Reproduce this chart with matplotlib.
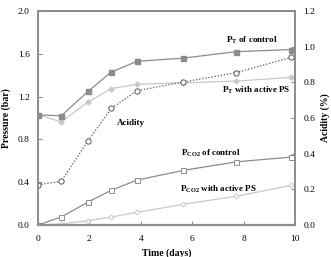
import numpy as np
import matplotlib.pyplot as plt

plt.rcParams.update({
    "font.family": "Liberation Serif",
    "font.size": 6,
    "mathtext.fontset": "custom",
    "mathtext.rm": "Liberation Serif:bold",
    "mathtext.bf": "Liberation Serif:bold",
})

# data
t_days = [0.0, 0.9, 1.95, 2.85, 3.85, 5.65, 7.7, 9.85]
pt_control = [1.03, 1.02, 1.25, 1.43, 1.53, 1.56, 1.62, 1.64]
pt_ps = [1.03, 0.965, 1.15, 1.275, 1.315, 1.33, 1.345, 1.38]
pco2_control = [0.0, 0.075, 0.215, 0.325, 0.42, 0.51, 0.59, 0.635]
pco2_ps = [0.0, 0.01, 0.04, 0.075, 0.118, 0.193, 0.268, 0.37]
acidity = [0.226, 0.245, 0.473, 0.654, 0.753, 0.802, 0.854, 0.94]

dark = "#8c8c8c"
light = "#c8c8c8"
spine_c = "#8c8c8c"

fig = plt.figure(figsize=(3.31, 2.57), dpi=100)
ax = fig.add_axes([0.115, 0.1245, 0.776, 0.8325])
ax2 = ax.twinx()

ax.plot(t_days, pt_control, color=dark, lw=0.9, marker="s", ms=3.6,
        mfc=dark, mec=dark, zorder=3)
ax.plot(t_days, pt_ps, color=light, lw=0.9, marker="D", ms=2.6,
        mfc=light, mec=light, zorder=2)
ax.plot(t_days, pco2_control, color=dark, lw=0.9, marker="s", ms=3.6,
        mfc="white", mec=dark, mew=0.7, zorder=3)
ax.plot(t_days, pco2_ps, color=light, lw=0.9, marker="D", ms=2.6,
        mfc="white", mec=light, mew=0.7, zorder=2)
ax2.plot(t_days, acidity, color="#555555", lw=0.9, ls=(0, (1, 1.5)),
         marker="o", ms=3.8, mfc="white", mec="#555555", mew=0.7)

ax.set_xlim(0, 10)
ax.set_ylim(0, 2.0)
ax2.set_ylim(0, 1.2)
ax.set_xticks([0, 2, 4, 6, 8, 10])
ax.set_yticks([0.0, 0.4, 0.8, 1.2, 1.6, 2.0])
ax2.set_yticks([0.0, 0.2, 0.4, 0.6, 0.8, 1.0, 1.2])
ax.yaxis.set_major_formatter(plt.FormatStrFormatter("%.1f"))
ax2.yaxis.set_major_formatter(plt.FormatStrFormatter("%.1f"))

for a in (ax, ax2):
    a.tick_params(direction="in", length=3, width=0.8, color=spine_c,
                  labelsize=6.8, pad=6)
    for s in a.spines.values():
        s.set_color(spine_c)
        s.set_linewidth(1.2)
ax.tick_params(axis="x", pad=7)
ax.spines["bottom"].set_linewidth(1.6)

ax.set_xlabel("Time (days)", fontweight="bold", fontsize=7, labelpad=4)
ax.set_ylabel("Pressure (bar)", fontweight="bold", fontsize=7, labelpad=5)
ax2.set_ylabel("Acidity (%)", fontweight="bold", fontsize=7, labelpad=4)

kw = dict(fontweight="bold", fontsize=6.5, va="center", ha="left")
ax.text(7.3, 1.73, r"P$_\mathrm{T}$ of control", **kw)
ax.text(7.15, 1.26, r"P$_\mathrm{T}$ with active PS", **kw)
ax.text(3.07, 0.95, "Acidity", **kw)
ax.text(5.55, 0.67, r"P$_\mathrm{CO2}$ of control", **kw)
ax.text(5.52, 0.33, r"P$_\mathrm{CO2}$ with active PS", **kw)

fig.savefig("out.png", dpi=100)
